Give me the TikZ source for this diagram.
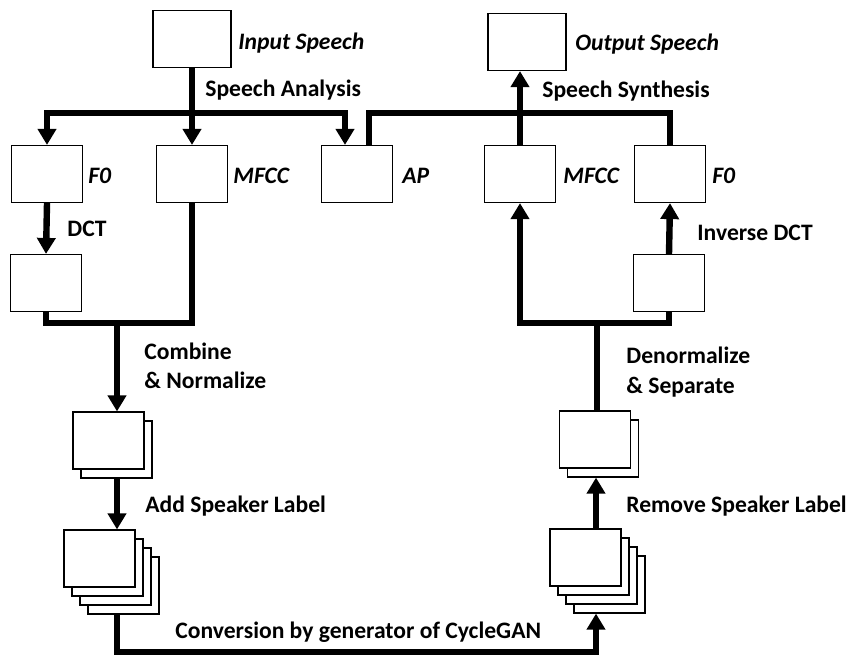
\documentclass[tikz,border=0pt]{standalone}
\usepackage{fontspec}
\setmainfont{Carlito}
\usepackage{tikz}
\usetikzlibrary{arrows.meta,calc}

\begin{document}
\begin{tikzpicture}[
  x=0.5pt,y=-0.5pt,
  every node/.style={font=\bfseries\fontsize{11.8}{14.5}\selectfont},
  box/.style={draw,fill=white,line width=0.6pt,minimum width=35.5pt,minimum height=28.5pt,inner sep=0pt},
  iobox/.style={box,minimum width=39pt},
  lbl/.style={anchor=base west,inner sep=0pt},
  wire/.style={line width=3.2pt},
  link/.style={wire,-{Triangle[length=8pt,width=9pt]}}
]
  \useasboundingbox (0,0) rectangle (850,655);

  % Speech in and out
  \node[iobox] (input) at (192,39) {};
  \node[iobox] (output) at (527,42) {};
  \node[lbl] (lblinput) at (238,49) {\itshape Input Speech};
  \node[lbl] (lbloutput) at (575,50) {\itshape Output Speech};

  % Analysed and synthesised features
  \node[box] (f0in) at (47,174) {};
  \node[box] (mfccin) at (192,174) {};
  \node[box] (ap) at (357,174) {};
  \node[box] (mfccout) at (520,174) {};
  \node[box] (f0out) at (670,174) {};
  \node[lbl] at (88,183) {\itshape F0};
  \node[lbl] at (233,183) {\itshape MFCC};
  \node[lbl] at (402,183) {\itshape AP};
  \node[lbl] at (563,183) {\itshape MFCC};
  \node[lbl] at (712,183) {\itshape F0};

  \node[box] (dct) at (46,283) {};
  \node[box] (idct) at (669,283) {};

  % Stacked feature sequences (back layers first)
  \foreach \k in {1} \node[box] (normin\k) at (108.5+8*\k,440.5+9*\k) {};
  \node[box] (normin) at (108.5,440.5) {};
  \foreach \k in {3,2,1} \node[box] (labin\k) at (99.5+8*\k,558.5+9*\k) {};
  \node[box] (labin) at (99.5,558.5) {};
  \foreach \k in {1} \node[box] (normout\k) at (595+8*\k,439.5+9*\k) {};
  \node[box] (normout) at (595,439.5) {};
  \foreach \k in {3,2,1} \node[box] (labout\k) at (585.5+8*\k,557.5+9*\k) {};
  \node[box] (labout) at (585.5,557.5) {};

  % Junctions
  \coordinate (split) at (192,113);
  \coordinate (join) at (117,323);
  \coordinate (sep) at (597,323);
  \coordinate (convL) at (117,652);
  \coordinate (convR) at (596,652);

  % Analysis side
  \draw[wire] (input.south) -- (split);
  \draw[link] (split) -| (f0in.north);
  \draw[link] (split) -- (mfccin.north);
  \draw[link] (split) -| ([xshift=-6pt]ap.north);
  \draw[link] (f0in.south) -- (dct.north);
  \draw[wire] (dct.south) |- (mfccin.south |- join) -- (mfccin.south);
  \draw[link] (join) -- (join |- normin.north);
  \draw[link] (join |- normin1.south) -- (join |- labin.north);
  \draw[link] (convL |- labin3.south) -- (convL) -- (convR) -- (convR |- labout3.south);

  % Synthesis side
  \draw[link] (convR |- labout.north) -- (convR |- normout1.south);
  \draw[wire] (normout.north -| sep) -- (sep);
  \draw[link] (idct.south) |- (mfccout.south |- sep) -- (mfccout.south);
  \draw[link] (idct.north) -- (f0out.south);
  \draw[wire] ([xshift=6pt]ap.north) |- (f0out.north |- split) -- (f0out.north);
  \draw[link] (mfccout.north) -- (mfccout.north |- output.south);

  % Step labels
  \node[lbl] at (205,96) {Speech Analysis};
  \node[lbl] at (542,97) {Speech Synthesis};
  \node[lbl] at (67,236) {DCT};
  \node[lbl] at (697,240) {Inverse DCT};
  \node[lbl] at (144,359) {Combine};
  \node[lbl] at (144,388) {\& Normalize};
  \node[lbl] at (626,363) {Denormalize};
  \node[lbl] at (626,393) {\& Separate};
  \node[lbl] at (145,512) {Add Speaker Label};
  \node[lbl] at (626,512) {Remove Speaker Label};
  \node[lbl] at (175,638) {Conversion by generator of CycleGAN};
\end{tikzpicture}
\end{document}
